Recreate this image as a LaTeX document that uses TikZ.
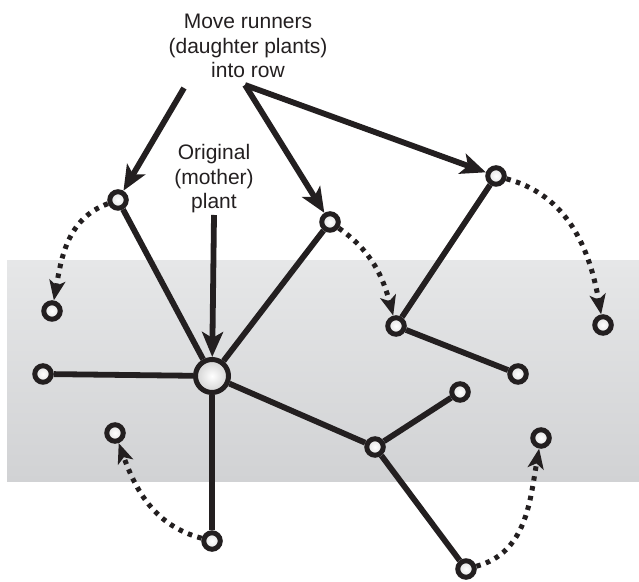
\documentclass[tikz,border=0pt]{standalone}
\usepackage{fontspec}
\setmainfont{Liberation Sans}
\usetikzlibrary{arrows.meta}
\definecolor{ink}{HTML}{231F20}
\definecolor{bandtop}{HTML}{E6E7E8}
\definecolor{bandbot}{HTML}{D1D2D4}
\begin{document}
\begin{tikzpicture}[x=1pt,y=1pt,
  plantnode/.style={circle,draw=ink,line width=5pt,inner sep=0pt,minimum size=16.5pt,
    shading=radial,inner color=white,outer color=black!12},
  mothernode/.style={circle,draw=ink,line width=5pt,inner sep=0pt,minimum size=33pt,
    shading=radial,inner color=white,outer color=black!18},
  runner/.style={draw=ink,line width=5.8pt},
  moveline/.style={draw=ink,line width=5pt,dash pattern=on 4.5pt off 5.5pt,
    -{Stealth[length=20pt,width=16pt,inset=5pt]}},
  pointer/.style={draw=ink,line width=5.8pt,
    -{Stealth[length=25pt,width=21pt,inset=6pt]}},
  caption/.style={align=center,inner sep=0pt,text=ink,
    font=\fontsize{21}{24.5}\selectfont}]
\useasboundingbox (0,0) rectangle (639,581);

% planting row
\shade[top color=bandtop,bottom color=bandbot] (7,100) rectangle (639,320);

% plants
\node[mothernode] (M) at (212,205) {};
\node[plantnode] (A) at (118,381) {};
\node[plantnode] (B) at (330,359) {};
\node[plantnode] (C) at (496,405) {};
\node[plantnode] (D) at (52,270) {};
\node[plantnode] (E) at (396,255) {};
\node[plantnode] (F) at (603,256) {};
\node[plantnode] (G) at (43,207) {};
\node[plantnode] (H) at (518,207) {};
\node[plantnode] (I) at (460,189) {};
\node[plantnode] (J) at (375,134) {};
\node[plantnode] (K) at (115,148) {};
\node[plantnode] (L) at (212,40) {};
\node[plantnode] (N) at (541,143) {};
\node[plantnode] (P) at (466,12) {};

% runners
\path[runner] (M) -- (A);
\path[runner] (M) -- (B);
\path[runner] (M) -- (G);
\path[runner] (M) -- (L);
\path[runner] (M) -- (J);
\path[runner] (J) -- (I);
\path[runner] (J) -- (P);
\path[runner] (E) -- (C);
\path[runner] (E) -- (H);

% moves into the row
\path[moveline] (A) to[out=200,in=80] (D);
\path[moveline] (B) to[out=-35,in=105] (E);
\path[moveline] (C) to[out=-15,in=100] (F);
\path[moveline] (L) to[out=165,in=-70] (K);
\path[moveline] (P) to[out=15,in=-100] (N);

% captions
\node[caption] (top) at (248,535) {Move runners\\(daughter plants)\\into row};
\node[caption] (mid) at (214,402) {Original\\(mother)\\plant};

\coordinate (t1) at (184,493);
\coordinate (t2) at (245,496);
\coordinate (m1) at (214,366);
\path[pointer] (t1) -- (A);
\path[pointer] (t2) -- (B);
\path[pointer] (t2) -- (C);
\path[pointer] (m1) -- (M);
\end{tikzpicture}
\end{document}
